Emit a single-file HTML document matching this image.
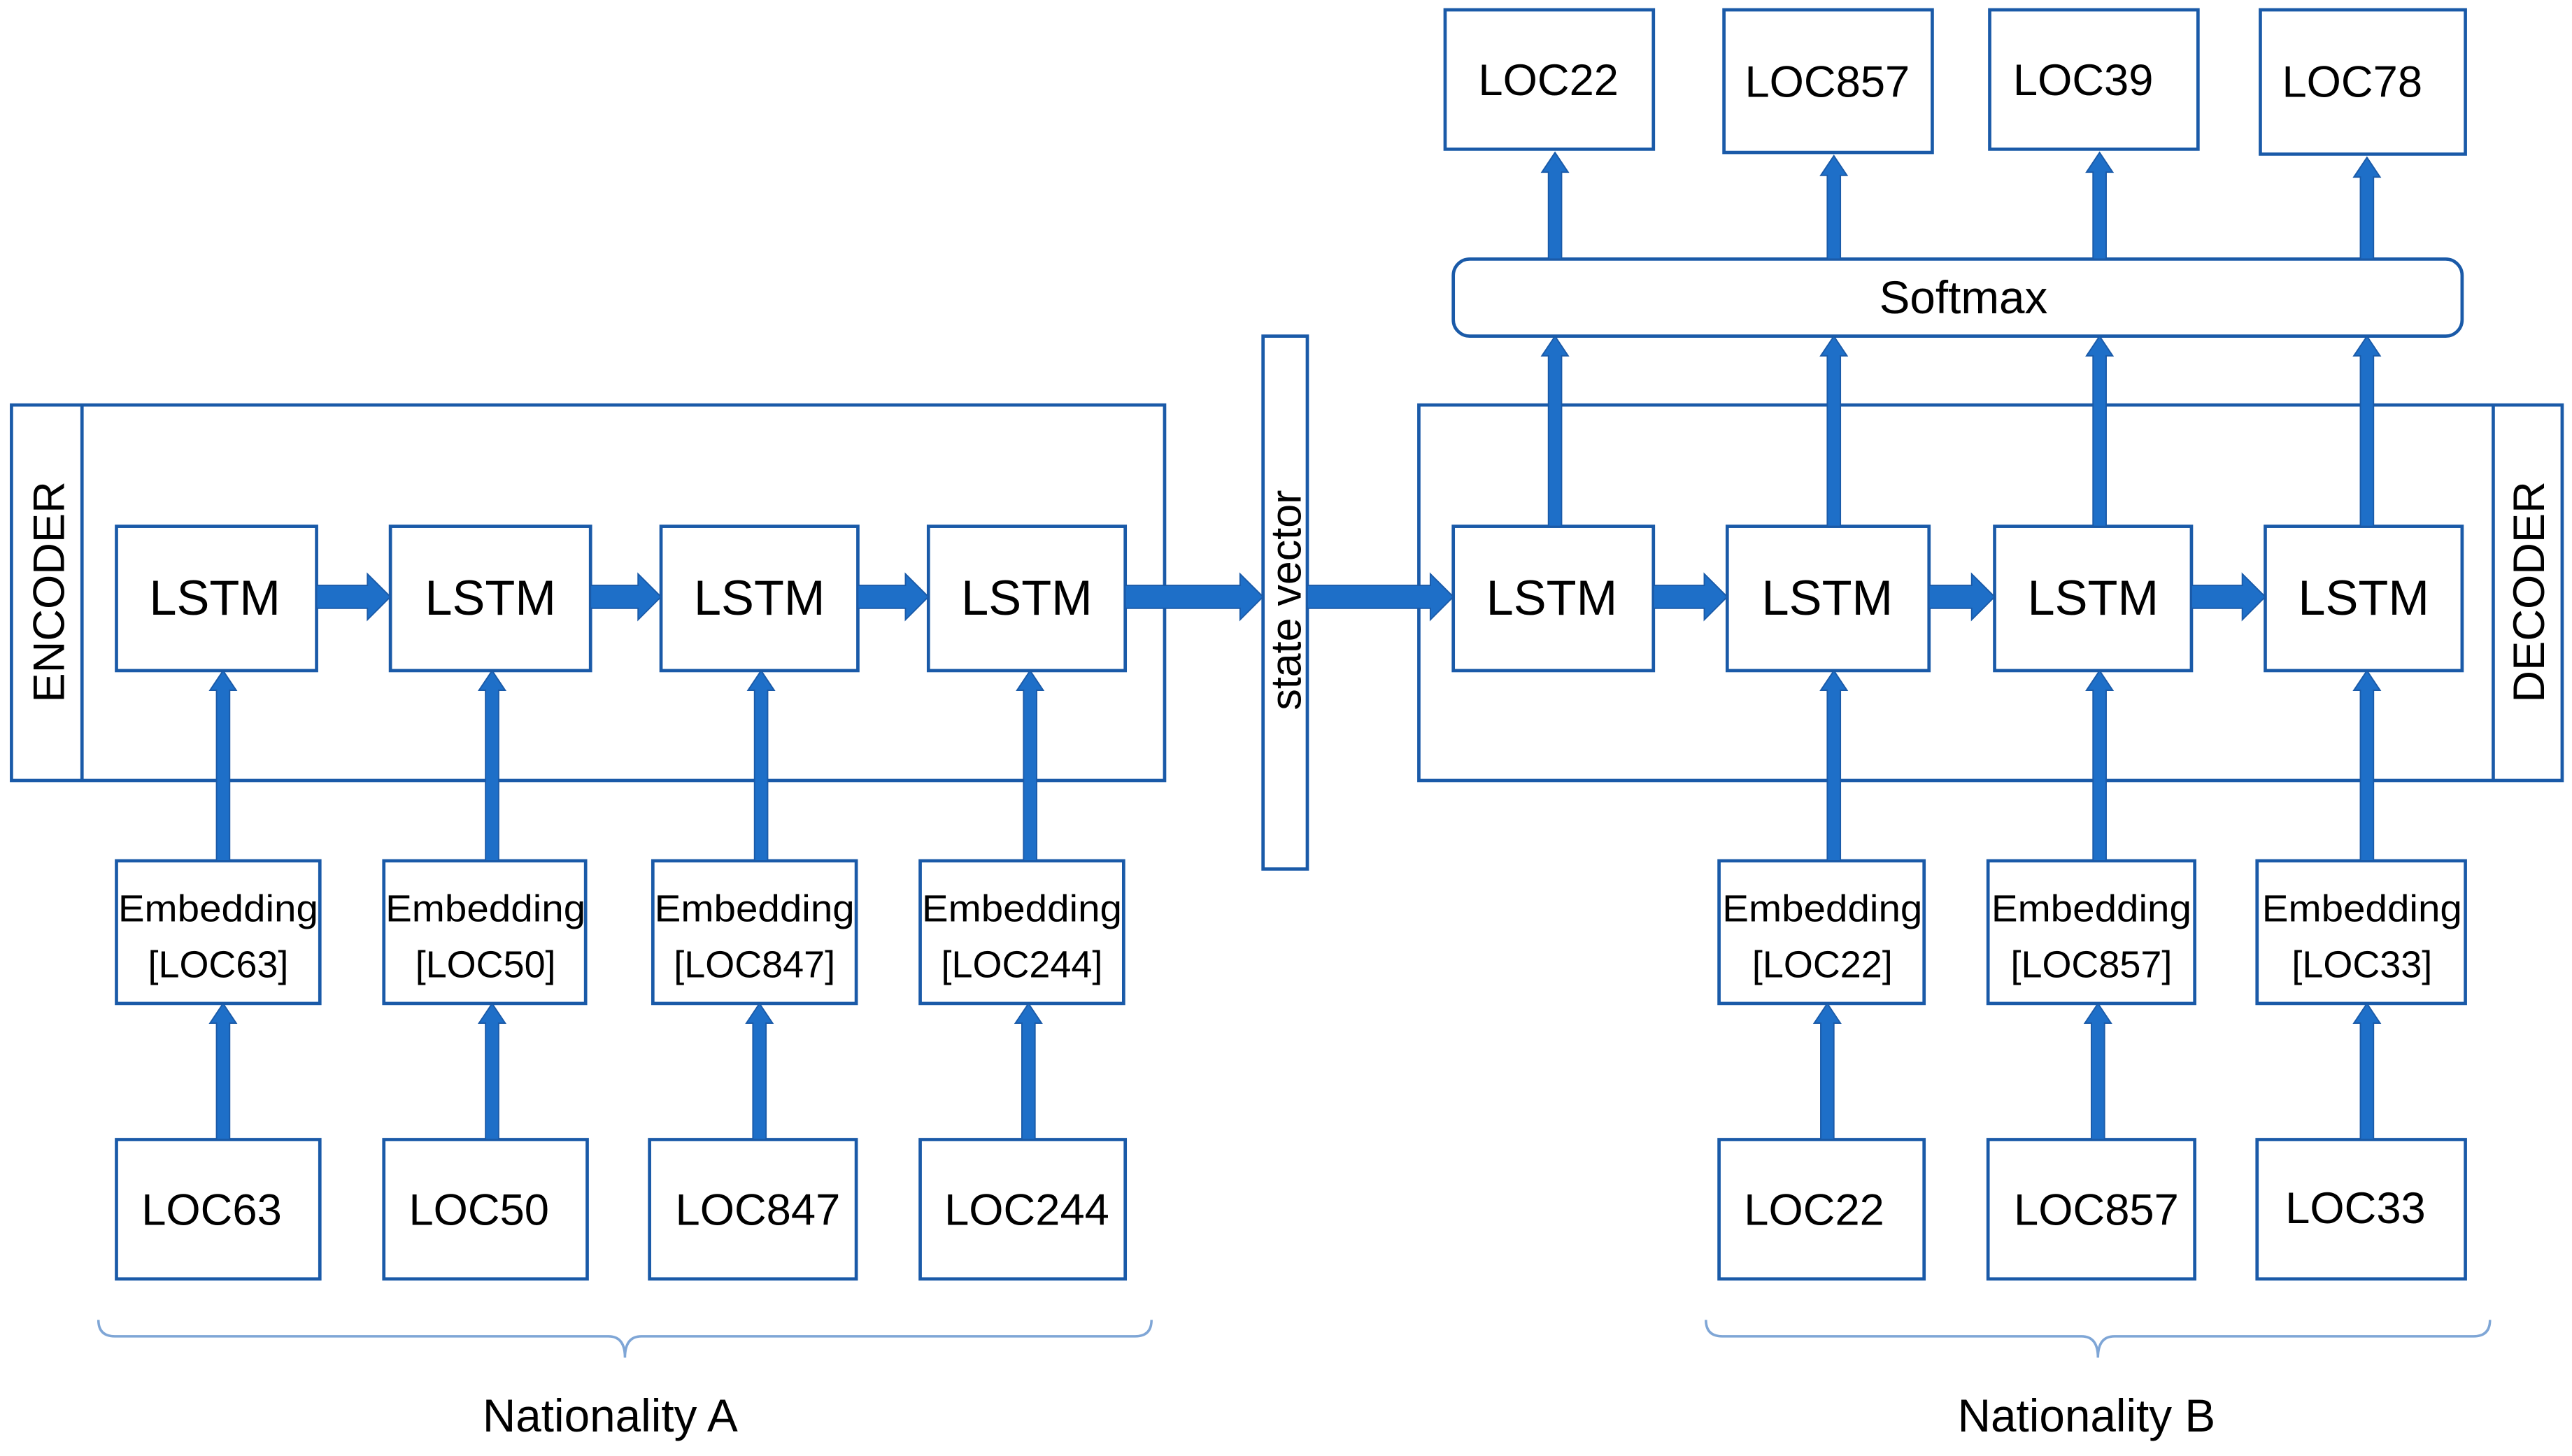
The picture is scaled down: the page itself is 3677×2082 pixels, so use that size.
<!DOCTYPE html>
<html><head><meta charset="utf-8"><style>
html,body{margin:0;padding:0;background:#fff;}
svg{display:block;}
text{font-family:"Liberation Sans",sans-serif;fill:#000;}
</style></head><body>
<svg width="3677" height="2082" viewBox="0 0 1568 888" preserveAspectRatio="none" xmlns="http://www.w3.org/2000/svg">
<g fill="none" stroke="#1a5aa8" stroke-width="2">
<rect x="7" y="247" width="703" height="229"/><line x1="50" y1="247" x2="50" y2="476"/>
<rect x="865" y="247" width="697" height="229"/><line x1="1520" y1="247" x2="1520" y2="476"/>
<rect x="770" y="205" width="27" height="325"/>
<rect x="886" y="158" width="615" height="47" rx="10"/>
<rect x="71" y="321" width="122" height="88"/><rect x="238" y="321" width="122" height="88"/>
<rect x="403" y="321" width="120" height="88"/><rect x="566" y="321" width="120" height="88"/>
<rect x="886" y="321" width="122" height="88"/><rect x="1053" y="321" width="123" height="88"/>
<rect x="1216" y="321" width="120" height="88"/><rect x="1381" y="321" width="120" height="88"/>
<rect x="71" y="525" width="124" height="87"/><rect x="234" y="525" width="123" height="87"/>
<rect x="398" y="525" width="124" height="87"/><rect x="561" y="525" width="124" height="87"/>
<rect x="1048" y="525" width="125" height="87"/><rect x="1212" y="525" width="126" height="87"/><rect x="1376" y="525" width="127" height="87"/>
<rect x="71" y="695" width="124" height="85"/><rect x="234" y="695" width="124" height="85"/>
<rect x="396" y="695" width="126" height="85"/><rect x="561" y="695" width="125" height="85"/>
<rect x="1048" y="695" width="125" height="85"/><rect x="1212" y="695" width="126" height="85"/><rect x="1376" y="695" width="127" height="85"/>
<rect x="881" y="6" width="127" height="85"/><rect x="1051" y="6" width="127" height="87"/>
<rect x="1213" y="6" width="127" height="85"/><rect x="1378" y="6" width="125" height="88"/>
</g>
<g fill="none" stroke="#7fa6d6" stroke-width="1.5">
<path d="M60 805 Q60 815 70 815 H371 Q381 815 381 828 Q381 815 391 815 H692 Q702 815 702 805"/>
<path d="M1040 805 Q1040 815 1050 815 H1269 Q1279 815 1279 828 Q1279 815 1289 815 H1508 Q1518 815 1518 805"/>
</g>
<g fill="#1e6fc8" stroke="#1a5aa8" stroke-width="0.8">
<path d="M193 357 H224 V350 L238 364 L224 378 V371 H193 Z"/>
<path d="M360 357 H389 V350 L403 364 L389 378 V371 H360 Z"/>
<path d="M523 357 H552 V350 L566 364 L552 378 V371 H523 Z"/>
<path d="M686 357 H756 V350 L770 364 L756 378 V371 H686 Z"/>
<path d="M797 357 H872 V350 L886 364 L872 378 V371 H797 Z"/>
<path d="M1008 357 H1039 V350 L1053 364 L1039 378 V371 H1008 Z"/>
<path d="M1176 357 H1202 V350 L1216 364 L1202 378 V371 H1176 Z"/>
<path d="M1336 357 H1367 V350 L1381 364 L1367 378 V371 H1336 Z"/>
<path d="M132 525 V421 h-4 l8 -12 l8 12 h-4 V525 Z"/>
<path d="M296 525 V421 h-4 l8 -12 l8 12 h-4 V525 Z"/>
<path d="M460 525 V421 h-4 l8 -12 l8 12 h-4 V525 Z"/>
<path d="M624 525 V421 h-4 l8 -12 l8 12 h-4 V525 Z"/>
<path d="M1114 525 V421 h-4 l8 -12 l8 12 h-4 V525 Z"/>
<path d="M1276 525 V421 h-4 l8 -12 l8 12 h-4 V525 Z"/>
<path d="M1439 525 V421 h-4 l8 -12 l8 12 h-4 V525 Z"/>
<path d="M132 695 V624 h-4 l8 -12 l8 12 h-4 V695 Z"/>
<path d="M296 695 V624 h-4 l8 -12 l8 12 h-4 V695 Z"/>
<path d="M459 695 V624 h-4 l8 -12 l8 12 h-4 V695 Z"/>
<path d="M623 695 V624 h-4 l8 -12 l8 12 h-4 V695 Z"/>
<path d="M1110 695 V624 h-4 l8 -12 l8 12 h-4 V695 Z"/>
<path d="M1275 695 V624 h-4 l8 -12 l8 12 h-4 V695 Z"/>
<path d="M1439 695 V624 h-4 l8 -12 l8 12 h-4 V695 Z"/>
<path d="M944 321 V217 h-4 l8 -12 l8 12 h-4 V321 Z"/>
<path d="M1114 321 V217 h-4 l8 -12 l8 12 h-4 V321 Z"/>
<path d="M1276 321 V217 h-4 l8 -12 l8 12 h-4 V321 Z"/>
<path d="M1439 321 V217 h-4 l8 -12 l8 12 h-4 V321 Z"/>
<path d="M944 158 V105 h-4 l8 -12 l8 12 h-4 V158 Z"/>
<path d="M1114 158 V107 h-4 l8 -12 l8 12 h-4 V158 Z"/>
<path d="M1276 158 V105 h-4 l8 -12 l8 12 h-4 V158 Z"/>
<path d="M1439 158 V108 h-4 l8 -12 l8 12 h-4 V158 Z"/>
</g>
<g font-size="30" text-anchor="middle">
<text x="131" y="375">LSTM</text><text x="299" y="375">LSTM</text>
<text x="463" y="375">LSTM</text><text x="626" y="375">LSTM</text>
<text x="946" y="375">LSTM</text><text x="1114" y="375">LSTM</text>
<text x="1276" y="375">LSTM</text><text x="1441" y="375">LSTM</text>
</g>
<g font-size="27" text-anchor="middle">
<text x="129" y="747">LOC63</text><text x="292" y="747">LOC50</text>
<text x="462" y="747">LOC847</text><text x="626" y="747">LOC244</text>
<text x="1106" y="747">LOC22</text><text x="1278" y="747">LOC857</text><text x="1436" y="746">LOC33</text>
<text x="944" y="58">LOC22</text><text x="1114" y="59">LOC857</text>
<text x="1270" y="58">LOC39</text><text x="1434" y="59">LOC78</text>
<text x="1197" y="191" font-size="28">Softmax</text>
<text x="372" y="873" font-size="28">Nationality A</text>
<text x="1272" y="873" font-size="28">Nationality B</text>
</g>
<g font-size="23" text-anchor="middle">
<text x="133" y="562" textLength="122" lengthAdjust="spacingAndGlyphs">Embedding</text><text x="133" y="596">[LOC63]</text>
<text x="296" y="562" textLength="122" lengthAdjust="spacingAndGlyphs">Embedding</text><text x="296" y="596">[LOC50]</text>
<text x="460" y="562" textLength="122" lengthAdjust="spacingAndGlyphs">Embedding</text><text x="460" y="596">[LOC847]</text>
<text x="623" y="562" textLength="122" lengthAdjust="spacingAndGlyphs">Embedding</text><text x="623" y="596">[LOC244]</text>
<text x="1111" y="562" textLength="122" lengthAdjust="spacingAndGlyphs">Embedding</text><text x="1111" y="596">[LOC22]</text>
<text x="1275" y="562" textLength="122" lengthAdjust="spacingAndGlyphs">Embedding</text><text x="1275" y="596">[LOC857]</text>
<text x="1440" y="562" textLength="122" lengthAdjust="spacingAndGlyphs">Embedding</text><text x="1440" y="596">[LOC33]</text>
</g>
<text font-size="27" text-anchor="middle" transform="translate(39,361) rotate(-90)">ENCODER</text>
<text font-size="27" text-anchor="middle" transform="translate(1551,361) rotate(-90)">DECODER</text>
<text font-size="26" text-anchor="middle" transform="translate(793,366) rotate(-90)">state vector</text>
</svg>
</body></html>
